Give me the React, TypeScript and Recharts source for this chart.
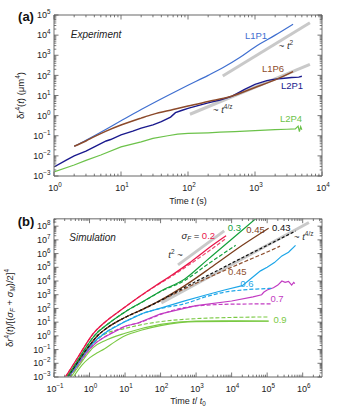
import React from 'react';
import { LineChart, Line, XAxis, YAxis, ReferenceDot } from 'recharts';

const FONT = '"Liberation Sans", Arial, Helvetica, sans-serif';
const TICK_COLOR = '#555';
const FRAME = { stroke: '#9a9a9a', strokeWidth: 1.4 };
const GUIDE = '#c9c9c9';

// ---------------- Panel (a): experiment ----------------
const A_X_DECADES = [0, 1, 2, 3, 4];
const A_Y_DECADES = [-3, -2, -1, 0, 1, 2, 3, 4, 5];
const A_X_DOMAIN: [number, number] = [1, 1e4];
const A_Y_DOMAIN: [number, number] = [1e-3, 1e5];

const L1P1_T = [2, 3, 4, 6, 10, 20, 50, 100, 200, 330, 600, 1000, 2000, 3700];
const L1P1_V = [0.03, 0.06, 0.1, 0.21, 0.55, 2.0, 10, 32, 100, 240, 800, 2600, 10000, 35000];

const L1P6_T = [2, 3, 4, 6, 10, 20, 30, 60, 100, 200, 420, 1000, 2000, 3700];
const L1P6_V = [0.03, 0.055, 0.09, 0.17, 0.34, 0.75, 1.15, 2.0, 3.0, 5.0, 8.6, 25, 60, 155];

const L2P1_T = [1, 1.5, 2, 3, 4, 6, 7, 10, 15, 20, 30, 40, 55, 65, 80, 100, 150, 200, 300, 450, 700, 1000, 1500, 2000, 2500, 3000, 3500, 4000, 4500, 5000];
const L2P1_V = [0.0028, 0.006, 0.01, 0.017, 0.028, 0.055, 0.065, 0.11, 0.17, 0.24, 0.35, 0.5, 0.85, 1.4, 1.8, 2.3, 3.3, 4.3, 6.0, 9, 20, 36, 55, 65, 70, 74, 78, 80, 82, 90];

const L2P4_T = [1, 2, 3, 5, 10, 20, 30, 50, 70, 100, 200, 300, 500, 1000, 2000, 3000, 4000, 4400, 4600, 4800, 5000];
const L2P4_V = [0.0016, 0.0035, 0.006, 0.011, 0.028, 0.05, 0.074, 0.1, 0.12, 0.13, 0.14, 0.15, 0.16, 0.18, 0.2, 0.21, 0.22, 0.3, 0.16, 0.28, 0.2];

const GUIDE_A2_T = [330, 6600];
const GUIDE_A2_V = [93, 41000];
const GUIDE_A4Z_T = [107, 6600];
const GUIDE_A4Z_V = [1.17, 355];

// ---------------- Panel (b): simulation ----------------
const B_X_DECADES = [-1, 0, 1, 2, 3, 4, 5, 6];
const B_Y_DECADES = [-3, -2, -1, 0, 1, 2, 3, 4, 5, 6, 7, 8];
const B_X_DOMAIN: [number, number] = [0.1, 3.5e6];
const B_Y_DOMAIN: [number, number] = [1e-3, 3.5e8];

const RED_S_T = [0.21, 0.32, 0.5, 0.8, 1.25, 2.6, 8, 20, 70, 200, 650, 2000, 7000];
const RED_S_V = [1e-3, 5.6e-3, 0.035, 0.25, 1.4, 9.1, 83, 470, 4300, 2.5e4, 2.1e5, 2e6, 2e7];
const RED_D_T = [0.21, 0.32, 0.5, 0.8, 1.25, 2.6, 8, 20, 70, 200, 650, 2000, 6500];
const RED_D_V = [1e-3, 5.6e-3, 0.035, 0.25, 1.4, 9.1, 83, 460, 4000, 2.1e4, 1.6e5, 1.2e6, 1.1e7];

const GRN_S_T = [0.23, 0.355, 0.56, 0.89, 1.4, 3.2, 10, 32, 100, 480, 2000, 1e4, 5.6e4];
const GRN_S_V = [1e-3, 5.6e-3, 0.035, 0.22, 1.1, 7, 56, 320, 1800, 1.4e4, 3.2e5, 1.1e7, 5e8];
const GRN_D_T = [0.23, 0.355, 0.56, 0.89, 1.4, 3.2, 10, 32, 100, 480, 2000, 1.3e4];
const GRN_D_V = [1e-3, 5.6e-3, 0.035, 0.22, 1.1, 7, 56, 310, 1700, 1.1e4, 1.5e5, 4e6];

const BRN_S_T = [0.24, 0.38, 0.63, 1, 1.6, 3.2, 10, 32, 100, 480, 3200, 2e4, 1.1e5];
const BRN_S_V = [1e-3, 5.6e-3, 0.04, 0.2, 0.9, 4, 22, 90, 400, 4600, 1.4e5, 4e6, 7e7];
const BRN_D_T = [0.24, 0.38, 0.63, 1, 1.6, 3.2, 10, 32, 100, 480, 3000, 2e4, 1e5, 2.3e5];
const BRN_D_V = [1e-3, 5.6e-3, 0.04, 0.2, 0.9, 4, 22, 86, 360, 2800, 2.5e4, 2.2e5, 1.3e6, 3.5e6];
const BLK_D_T = [0.24, 0.38, 0.63, 1, 1.6, 3.2, 10, 32, 100, 480, 3000, 2e4, 1e5, 6.3e5];
const BLK_D_V = [1e-3, 5.6e-3, 0.04, 0.2, 0.9, 4, 22, 88, 380, 3500, 4e4, 5e5, 4e6, 4.4e7];

const BLU_S_T = [0.25, 0.4, 0.63, 1, 1.6, 3.2, 10, 32, 100, 480, 2000, 6300, 2e4, 3.2e4, 6.5e4, 1e5, 1.6e5, 2.6e5, 4e5, 6.3e5];
const BLU_S_V = [1e-3, 5e-3, 0.032, 0.16, 0.56, 2.2, 11, 45, 105, 360, 1000, 2200, 4600, 1.25e4, 5.5e4, 1e5, 2.2e5, 6.8e5, 1.25e6, 4e6];
const BLU_D_T = [0.25, 0.4, 0.63, 1, 1.6, 3.2, 10, 32, 100, 480, 2000, 6000, 2e4, 5e4, 1.3e5];
const BLU_D_V = [1e-3, 5e-3, 0.032, 0.16, 0.56, 2.2, 11, 44, 100, 220, 750, 1500, 2200, 2600, 2900];

const MAG_S_T = [0.26, 0.42, 0.66, 1, 1.6, 2.6, 10, 23, 100, 1000, 1e4, 4e4, 7e4, 8e4, 1e5, 1.5e5, 2e5, 2.6e5, 3.2e5, 4e5, 4.9e5, 5.6e5, 6e5];
const MAG_S_V = [1e-3, 5e-3, 0.028, 0.11, 0.35, 0.8, 5, 8.7, 40, 160, 350, 700, 1000, 1500, 2200, 3200, 5000, 1e4, 8000, 9500, 5000, 8000, 6500];
const MAG_D_T = [0.26, 0.42, 0.66, 1, 1.6, 2.6, 10, 23, 100, 300, 1000, 1e4, 1.3e5];
const MAG_D_V = [1e-3, 5e-3, 0.028, 0.11, 0.35, 0.8, 5, 8.5, 36, 90, 150, 205, 215];

const LGR_S_T = [0.3, 0.5, 0.8, 1.26, 2.6, 10, 100, 1000, 1e4, 1.1e5];
const LGR_S_V = [1e-3, 6.3e-3, 0.035, 0.14, 0.42, 1.55, 6.9, 12, 12.6, 12];
const LGR_D_T = [0.28, 0.47, 0.76, 1.26, 2.6, 10, 100, 1000, 1e4, 1.1e5];
const LGR_D_V = [1e-3, 6.3e-3, 0.04, 0.25, 1.26, 3.5, 11, 18, 22, 24];
const LGR_L_T = [0.35, 0.63, 1, 1.6, 2.6, 5, 10, 32, 100, 1000, 1.1e5];
const LGR_L_V = [1e-3, 8e-3, 0.025, 0.056, 0.11, 0.35, 1.0, 2.8, 5.6, 11, 11.7];

const GUIDE_B2_T = [310, 6200];
const GUIDE_B2_V = [1.5e5, 4.5e7];
const GUIDE_B4Z_T = [105, 1.5e6];
const GUIDE_B4Z_V = [257, 1.86e8];

// ---------------- colours ----------------
const C = {
  l1p1: '#3f6fd0', l1p6: '#8c4a2b', l2p1: '#1a1a8e', l2p4: '#6cc24a',
  red: '#e8174b', redD: '#f0486f', grn: '#14a03c', brn: '#7b3f1f', brnD: '#8e5030',
  blk: '#111111', blu: '#1da6e8', mag: '#c23bc2', lgr: '#7ac943',
};

const pts = (t: number[], v: number[]) => t.map((tt, i) => ({ t: tt, v: v[i] }));

function logTicks(lo: number, hi: number) {
  const out: number[] = [];
  for (let e = Math.floor(Math.log10(lo)); e <= Math.ceil(Math.log10(hi)); e++) {
    for (let m = 1; m <= 9; m++) {
      const v = m * Math.pow(10, e);
      if (v >= lo * 0.9999 && v <= hi * 1.0001) out.push(v);
    }
  }
  return out;
}

const supExp = (e: number) => (e < 0 ? `\u2212${-e}` : `${e}`);

type Side = 'bottom' | 'top' | 'left' | 'right';

function makeTick(side: Side, labelled: number[] | null, gap: number) {
  return function Tick(props: any) {
    const { x, y, payload } = props;
    const v = Number(payload?.value);
    if (!(v > 0)) return <g />;
    const lg = Math.log10(v);
    const e = Math.round(lg);
    const major = Math.abs(lg - e) < 1e-6;
    const len = major ? 4.5 : 2.3;
    let x2 = x;
    let y2 = y;
    if (side === 'bottom') y2 = y - len;
    if (side === 'top') y2 = y + len;
    if (side === 'left') x2 = x + len;
    if (side === 'right') x2 = x - len;
    const show = !!labelled && major && labelled.includes(e);
    return (
      <g>
        <line x1={x} y1={y} x2={x2} y2={y2} stroke={TICK_COLOR} strokeWidth={0.8} />
        {show && side === 'bottom' && (
          <text x={x + 1} y={y + gap} textAnchor="middle" fontSize={9} fill="#222" fontFamily={FONT}>
            10<tspan dy={-4} fontSize={6.3}>{supExp(e)}</tspan>
          </text>
        )}
        {show && side === 'left' && (
          <text x={x - gap} y={y + 3.2} textAnchor="end" fontSize={9} fill="#222" fontFamily={FONT}>
            10<tspan dy={-4} fontSize={6.3}>{supExp(e)}</tspan>
          </text>
        )}
      </g>
    );
  };
}

const note = (content: React.ReactNode, color: string, size = 9.5, italic = false) =>
  function Note(p: any) {
    return (
      <text
        x={p.cx}
        y={p.cy}
        dy="0.35em"
        textAnchor="middle"
        fill={color}
        fontSize={size}
        fontFamily={FONT}
        fontStyle={italic ? 'italic' : 'normal'}
      >
        {content}
      </text>
    );
  };

const axisCommon = {
  type: 'number' as const,
  scale: 'log' as const,
  allowDataOverflow: true,
  interval: 0 as const,
  tickSize: 0,
  tickMargin: 0,
  tickLine: false,
  axisLine: FRAME,
};

const A_XT = logTicks(A_X_DOMAIN[0], A_X_DOMAIN[1]);
const A_YT = logTicks(A_Y_DOMAIN[0], A_Y_DOMAIN[1]);
const B_XT = logTicks(B_X_DOMAIN[0], B_X_DOMAIN[1]);
const B_YT = logTicks(B_Y_DOMAIN[0], B_Y_DOMAIN[1]);

const lineBase = { type: 'monotone' as const, dot: false, isAnimationActive: false, xAxisId: 'x', yAxisId: 'y', dataKey: 'v' };

function PanelA() {
  return (
    <div style={{ position: 'relative', width: 340, height: 205 }}>
      <LineChart width={340} height={205} margin={{ top: 14, right: 17, bottom: 1, left: 0 }}>
        <XAxis xAxisId="x" dataKey="t" {...axisCommon} domain={A_X_DOMAIN} ticks={A_XT} height={28} tick={makeTick('bottom', A_X_DECADES, 15)} />
        <XAxis xAxisId="xt" dataKey="t" orientation="top" {...axisCommon} domain={A_X_DOMAIN} ticks={A_XT} height={1} tick={makeTick('top', null, 0)} />
        <YAxis yAxisId="y" {...axisCommon} domain={A_Y_DOMAIN} ticks={A_YT} width={54} tick={makeTick('left', A_Y_DECADES, 3.5)} />
        <YAxis yAxisId="yr" orientation="right" {...axisCommon} domain={A_Y_DOMAIN} ticks={A_YT} width={1} tick={makeTick('right', null, 0)} />

        <Line {...lineBase} type="linear" data={pts(GUIDE_A2_T, GUIDE_A2_V)} stroke={GUIDE} strokeWidth={3} />
        <Line {...lineBase} type="linear" data={pts(GUIDE_A4Z_T, GUIDE_A4Z_V)} stroke={GUIDE} strokeWidth={3} />
        <Line {...lineBase} type="linear" data={pts(L2P4_T, L2P4_V)} stroke={C.l2p4} strokeWidth={1.2} />
        <Line {...lineBase} data={pts(L1P1_T, L1P1_V)} stroke={C.l1p1} strokeWidth={1.2} />
        <Line {...lineBase} type="linear" data={pts(L2P1_T, L2P1_V)} stroke={C.l2p1} strokeWidth={1.4} />
        <Line {...lineBase} data={pts(L1P6_T, L1P6_V)} stroke={C.l1p6} strokeWidth={1.5} />

        <ReferenceDot xAxisId="x" yAxisId="y" x={4.24} y={11350} r={1} ifOverflow="visible" shape={note('Experiment', '#222', 10, true)} />
        <ReferenceDot xAxisId="x" yAxisId="y" x={1035} y={9020} r={1} ifOverflow="visible" shape={note('L1P1', C.l1p1)} />
        <ReferenceDot xAxisId="x" yAxisId="y" x={2900} y={2870} r={1} ifOverflow="visible"
          shape={note(<>~ <tspan fontStyle="italic">t</tspan><tspan dy={-4} fontSize={6.5}>2</tspan></>, '#333')} />
        <ReferenceDot xAxisId="x" yAxisId="y" x={1857} y={205} r={1} ifOverflow="visible" shape={note('L1P6', C.l1p6)} />
        <ReferenceDot xAxisId="x" yAxisId="y" x={3565} y={29.4} r={1} ifOverflow="visible" shape={note('L2P1', C.l2p1)} />
        <ReferenceDot xAxisId="x" yAxisId="y" x={330} y={1.88} r={1} ifOverflow="visible"
          shape={note(<>~ <tspan fontStyle="italic">t</tspan><tspan dy={-4} fontSize={6.5}>4/z</tspan></>, '#333')} />
        <ReferenceDot xAxisId="x" yAxisId="y" x={3445} y={0.67} r={1} ifOverflow="visible" shape={note('L2P4', C.l2p4)} />
      </LineChart>
      <svg width={340} height={210} style={{ position: 'absolute', left: 0, top: 0, pointerEvents: 'none', overflow: 'visible' }}>
        <text x={26} y={21} textAnchor="middle" fontSize={13} fontWeight="bold" fontFamily={FONT} fill="#111">(a)</text>
        <text transform="translate(23.5,95.5) rotate(-90)" textAnchor="middle" fontSize={9.5} fontFamily={FONT} fill="#222">
          δ<tspan fontStyle="italic">r</tspan><tspan dy={-4} fontSize={6.5}>4</tspan><tspan dy={4}>(</tspan><tspan fontStyle="italic">t</tspan><tspan>) (μm</tspan><tspan dy={-4} fontSize={6.5}>4</tspan><tspan dy={4}>)</tspan>
        </text>
        <text x={188} y={204} textAnchor="middle" fontSize={9} fontFamily={FONT} fill="#222">
          Time <tspan fontStyle="italic">t</tspan> (s)
        </text>
      </svg>
    </div>
  );
}

function PanelB() {
  return (
    <div style={{ position: 'relative', width: 340, height: 215 }}>
      <LineChart width={340} height={215} margin={{ top: 12.7, right: 17, bottom: 1, left: 0 }}>
        <XAxis xAxisId="x" dataKey="t" {...axisCommon} domain={B_X_DOMAIN} ticks={B_XT} height={42} tick={makeTick('bottom', B_X_DECADES, 15)} />
        <XAxis xAxisId="xt" dataKey="t" orientation="top" {...axisCommon} domain={B_X_DOMAIN} ticks={B_XT} height={1} tick={makeTick('top', null, 0)} />
        <YAxis yAxisId="y" {...axisCommon} domain={B_Y_DOMAIN} ticks={B_YT} width={54} tick={makeTick('left', B_Y_DECADES, 3.5)} />
        <YAxis yAxisId="yr" orientation="right" {...axisCommon} domain={B_Y_DOMAIN} ticks={B_YT} width={1} tick={makeTick('right', null, 0)} />

        <Line {...lineBase} type="linear" data={pts(GUIDE_B2_T, GUIDE_B2_V)} stroke={GUIDE} strokeWidth={3} />
        <Line {...lineBase} type="linear" data={pts(GUIDE_B4Z_T, GUIDE_B4Z_V)} stroke={GUIDE} strokeWidth={3} />

        <Line {...lineBase} data={pts(LGR_L_T, LGR_L_V)} stroke={C.lgr} strokeWidth={1.1} />
        <Line {...lineBase} data={pts(LGR_S_T, LGR_S_V)} stroke={C.lgr} strokeWidth={1.1} />
        <Line {...lineBase} data={pts(LGR_D_T, LGR_D_V)} stroke={C.lgr} strokeWidth={1.1} strokeDasharray="4 2" />
        <Line {...lineBase} data={pts(MAG_D_T, MAG_D_V)} stroke={C.mag} strokeWidth={1.2} strokeDasharray="4 2" />
        <Line {...lineBase} type="linear" data={pts(MAG_S_T, MAG_S_V)} stroke={C.mag} strokeWidth={1.2} />
        <Line {...lineBase} data={pts(BLU_D_T, BLU_D_V)} stroke={C.blu} strokeWidth={1.2} strokeDasharray="4 2" />
        <Line {...lineBase} type="linear" data={pts(BLU_S_T, BLU_S_V)} stroke={C.blu} strokeWidth={1.2} />
        <Line {...lineBase} data={pts(BRN_D_T, BRN_D_V)} stroke={C.brnD} strokeWidth={1.2} strokeDasharray="4 2" />
        <Line {...lineBase} data={pts(BRN_S_T, BRN_S_V)} stroke={C.brn} strokeWidth={1.3} />
        <Line {...lineBase} data={pts(BLK_D_T, BLK_D_V)} stroke={C.blk} strokeWidth={1.2} strokeDasharray="3 2" />
        <Line {...lineBase} data={pts(GRN_D_T, GRN_D_V)} stroke={C.grn} strokeWidth={1.2} strokeDasharray="4 2" />
        <Line {...lineBase} data={pts(GRN_S_T, GRN_S_V)} stroke={C.grn} strokeWidth={1.2} />
        <Line {...lineBase} data={pts(RED_D_T, RED_D_V)} stroke={C.redD} strokeWidth={1.2} strokeDasharray="4 2" />
        <Line {...lineBase} data={pts(RED_S_T, RED_S_V)} stroke={C.red} strokeWidth={1.3} />

        <ReferenceDot xAxisId="x" yAxisId="y" x={1.22} y={1.5e7} r={1} ifOverflow="visible" shape={note('Simulation', '#222', 10, true)} />
        <ReferenceDot xAxisId="x" yAxisId="y" x={1150} y={2e7} r={1} ifOverflow="visible"
          shape={note(<><tspan fontStyle="italic">σ</tspan><tspan dy={2} fontSize={6.3} fontStyle="italic">F</tspan><tspan dy={-2}> = </tspan><tspan fill={C.red}>0.2</tspan></>, '#222')} />
        <ReferenceDot xAxisId="x" yAxisId="y" x={1.2e4} y={7.6e7} r={1} ifOverflow="visible" shape={note('0.3', C.grn)} />
        <ReferenceDot xAxisId="x" yAxisId="y" x={4.7e4} y={6e7} r={1} ifOverflow="visible" shape={note('0.45', C.brn)} />
        <ReferenceDot xAxisId="x" yAxisId="y" x={2.5e5} y={7.6e7} r={1} ifOverflow="visible" shape={note('0.43', C.blk)} />
        <ReferenceDot xAxisId="x" yAxisId="y" x={1.07e6} y={1.7e7} r={1} ifOverflow="visible"
          shape={note(<>~ <tspan fontStyle="italic">t</tspan><tspan dy={-4} fontSize={6.5}>4/z</tspan></>, '#333')} />
        <ReferenceDot xAxisId="x" yAxisId="y" x={263} y={8.9e5} r={1} ifOverflow="visible"
          shape={note(<><tspan fontStyle="italic">t</tspan><tspan dy={-4} fontSize={6.5}>2</tspan><tspan dy={4}> ~</tspan></>, '#333')} />
        <ReferenceDot xAxisId="x" yAxisId="y" x={1.45e4} y={4.9e4} r={1} ifOverflow="visible" shape={note('0.45', C.brnD)} />
        <ReferenceDot xAxisId="x" yAxisId="y" x={2.7e4} y={6e3} r={1} ifOverflow="visible" shape={note('0.6', C.blu)} />
        <ReferenceDot xAxisId="x" yAxisId="y" x={1.9e5} y={525} r={1} ifOverflow="visible" shape={note('0.7', C.mag)} />
        <ReferenceDot xAxisId="x" yAxisId="y" x={2.3e5} y={16} r={1} ifOverflow="visible" shape={note('0.9', C.lgr)} />
      </LineChart>
      <svg width={340} height={215} style={{ position: 'absolute', left: 0, top: 0, pointerEvents: 'none', overflow: 'visible' }}>
        <text x={26} y={20.5} textAnchor="middle" fontSize={13} fontWeight="bold" fontFamily={FONT} fill="#111">(b)</text>
        <text transform="translate(12.5,103) rotate(-90)" textAnchor="middle" fontSize={9.5} fontFamily={FONT} fill="#222">
          δ<tspan fontStyle="italic">r</tspan><tspan dy={-4} fontSize={6.3}>4</tspan><tspan dy={4}>(</tspan><tspan fontStyle="italic">t</tspan><tspan>)/[(</tspan><tspan fontStyle="italic">σ</tspan><tspan dy={2} fontSize={6.3} fontStyle="italic">F</tspan><tspan dy={-2}> + </tspan><tspan fontStyle="italic">σ</tspan><tspan dy={2} fontSize={6.3} fontStyle="italic">M</tspan><tspan dy={-2}>)/2]</tspan><tspan dy={-4} fontSize={6.3}>4</tspan>
        </text>
        <text x={188} y={199} textAnchor="middle" fontSize={9} fontFamily={FONT} fill="#222">
          Time <tspan fontStyle="italic">t</tspan>/ <tspan fontStyle="italic">t</tspan><tspan dy={2} fontSize={6.3}>0</tspan>
        </text>
      </svg>
    </div>
  );
}

export default function App() {
  return (
    <div style={{ position: 'absolute', left: 0, top: 0, width: 340, height: 420, background: '#fff', fontFamily: FONT, overflow: 'hidden' }}>
      <PanelA />
      <PanelB />
    </div>
  );
}
